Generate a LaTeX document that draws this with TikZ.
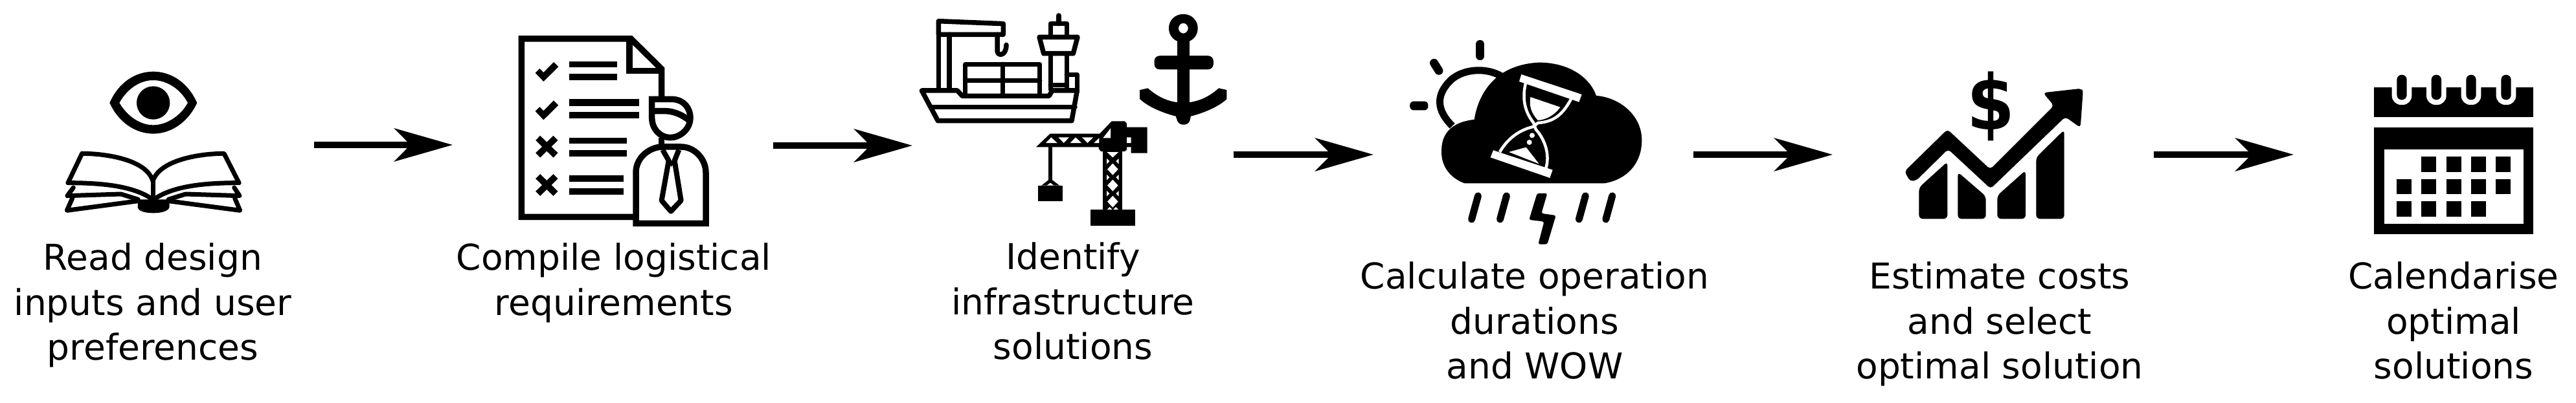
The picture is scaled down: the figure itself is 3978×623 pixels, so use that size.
\documentclass[tikz,border=0pt]{standalone}
\usepackage{fontspec}
\setmainfont{DejaVu Sans}
\usetikzlibrary{arrows.meta}
\tikzset{
  flowarrow/.style={line width=10pt,-{Stealth[length=90pt,width=51pt,inset=25pt]}},
  steplabel/.style={anchor=north,inner sep=0pt,align=center,font=\fontsize{55}{69.5}\selectfont},
  ztwo/.style={shift={(1300,0)},xscale=1/1.206,yscale=1/2.516},
  ink/.style={line width=#1,line join=round,line cap=round},
  ink/.default=9pt,
}
\begin{document}
\begin{tikzpicture}[x=1pt,y=-1pt]
\useasboundingbox (0,0) rectangle (3978,623);
\fill[white] (0,0) rectangle (3978,623);

% --- labels
\node[steplabel] (t1) at (236,369) {\strut Read design\\inputs and user\\preferences};
\node[steplabel] (t2) at (948,369) {\strut Compile logistical\\requirements};
\node[steplabel] (t3) at (1657,368) {\strut Identify\\infrastructure\\solutions};
\node[steplabel] (t4) at (2370,398) {\strut Calculate operation\\durations\\and WOW};
\node[steplabel] (t5) at (3088,398) {\strut Estimate costs\\and select\\optimal solution};
\node[steplabel] (t6) at (3789,398) {\strut Calendarise\\optimal\\solutions};

% --- connector end points
\coordinate (a1s) at (485,224);  \coordinate (a1e) at (699,224);
\coordinate (a2s) at (1194,225); \coordinate (a2e) at (1409,225);
\coordinate (a3s) at (1905,239); \coordinate (a3e) at (2121,239);
\coordinate (a4s) at (2615,239); \coordinate (a4e) at (2830,239);
\coordinate (a5s) at (3326,239); \coordinate (a5e) at (3542,239);
\draw[flowarrow] (a1s) -- (a1e);
\draw[flowarrow] (a2s) -- (a2e);
\draw[flowarrow] (a3s) -- (a3e);
\draw[flowarrow] (a4s) -- (a4e);
\draw[flowarrow] (a5s) -- (a5e);

% --- eye and book
\begin{scope}[shift={(70,90)},scale=1/3]
\fill[even odd rule] (298,207) .. controls (340,110) and (420,62) .. (500,62) .. controls (580,62) and (660,110) .. (703,207) .. controls (660,300) and (580,350) .. (500,350) .. controls (420,350) and (340,300) .. (298,207) -- cycle
 (343,207) .. controls (380,140) and (440,102) .. (500,102) .. controls (560,102) and (625,140) .. (660,207) .. controls (625,270) and (560,310) .. (500,310) .. controls (440,310) and (380,270) .. (343,207) -- cycle;
\fill (500,207) circle[radius=77];
\begin{scope}[ink=7pt]
\draw (105,578) -- (170,442) .. controls (280,442) and (470,470) .. (498,570) .. controls (530,470) and (720,442) .. (828,442) -- (897,578);
\draw (498,560) -- (498,650);
\draw (105,578) .. controls (250,578) and (400,590) .. (490,650);
\draw (897,578) .. controls (750,578) and (600,590) .. (510,650);
\draw (130,600) -- (102,638) -- (350,630) -- (430,655);
\draw (875,600) -- (900,638) -- (650,630) -- (570,655);
\draw (125,650) -- (100,706) -- (430,662);
\draw (878,650) -- (902,706) -- (570,662);
\end{scope}
\fill (430,655) -- (575,655) -- (575,690) .. controls (570,712) and (530,718) .. (500,718) .. controls (470,718) and (430,712) .. (428,690) -- cycle;
\end{scope}

% --- checklist and person
\begin{scope}[shift={(780,40)},scale=1/3]
\begin{scope}[line width=9.5pt]
\draw (600,886) -- (76,886) -- (76,60) -- (583,60) -- (725,200) -- (725,335);
\draw (576,60) -- (576,209) -- (725,209);
\end{scope}
\foreach \a/\b/\c in {165/192/518,223/251/518,340/371/622,399/430/622,519/547/563,577/606/563,694/724/549,752/782/549} {
 \fill (298,\a) rectangle (\c,\b);
}
\foreach \y in {0,178} {
 \fill (140,218+\y) -- (160,198+\y) -- (178,216+\y) -- (225,168+\y) -- (247,190+\y) -- (178,258+\y) -- cycle;
}
\foreach \y in {560,738} {
 \draw[line width=10pt] (152,\y-40) -- (234,\y+40) (234,\y-40) -- (152,\y+40);
}
\begin{scope}[line width=9.5pt]
\draw[fill=white] (680,340) -- (770,340) .. controls (830,340) and (858,385) .. (858,425) .. controls (858,480) and (810,518) .. (765,518) .. controls (720,518) and (680,480) .. (680,425) -- cycle;
\draw (680,395) -- (740,395) .. controls (790,395) and (830,420) .. (855,440);
\draw (725,518) -- (725,560);
\draw[fill=white] (606,916) -- (606,680) .. controls (606,610) and (670,561) .. (730,561) -- (815,561) .. controls (880,561) and (930,620) .. (930,680) -- (930,916) -- cycle;
\draw[line width=8pt,line join=round] (730,575) -- (758,625) -- (725,810) -- (768,860) -- (815,810) -- (785,625) -- (805,575);
\draw[line width=5pt] (758,620) -- (771,640) -- (785,620);
\end{scope}
\end{scope}

% --- ship
\begin{scope}[shift={(1410,10)},scale=1/3]
\begin{scope}[ink=7.5pt]
\draw (118,68) -- (418,80) -- (418,130) -- (118,130) -- cycle;
\draw (118,130) -- (118,385) (168,130) -- (168,385);
\draw (390,130) -- (390,205) .. controls (390,232) and (432,232) .. (432,178);
\draw (242,268) rectangle (587,415);
\draw (415,268) -- (415,415) (242,343) -- (587,343);
\draw (675,42) -- (675,80);
\draw (637,140) -- (637,80) -- (712,80) -- (712,140);
\draw (585,142) -- (762,142) -- (742,218) -- (605,218) -- cycle;
\draw (637,218) -- (637,385) (712,218) -- (712,385);
\draw (712,316) -- (760,316) -- (760,395);
\draw (637,365) -- (712,365);
\draw (40,390) -- (205,390) -- (228,415) -- (630,415) -- (645,390) -- (760,390) -- (735,530) -- (115,530) -- cycle;
\draw (85,466) -- (750,466);
\end{scope}
\end{scope}

% --- anchor
\begin{scope}[ztwo]
\fill[even odd rule] (636,55) .. controls (652,55) and (663,80) .. (663,110) .. controls (663,140) and (652,165) .. (636,165) .. controls (620,165) and (609,140) .. (609,110) .. controls (609,80) and (620,55) .. (636,55) -- cycle
 (636,90) .. controls (641,90) and (645,100) .. (645,110) .. controls (645,120) and (641,130) .. (636,130) .. controls (631,130) and (627,120) .. (627,110) .. controls (627,100) and (631,90) .. (636,90) -- cycle;
\fill (625,150) rectangle (648,440);
\fill[rounded corners=8pt] (582,217) rectangle (692,270);
\fill (570,343) .. controls (590,380) and (610,398) .. (636,400) .. controls (662,398) and (682,380) .. (702,343) -- (717,350) -- (717,385) .. controls (700,420) and (665,445) .. (650,452) -- (648,470) .. controls (645,490) and (628,490) .. (625,470) -- (622,452) .. controls (607,445) and (572,420) .. (555,385) -- (555,350) -- cycle;
\end{scope}

% --- tower crane
\begin{scope}[shift={(1590,180)},scale=1/3]
\fill (30,142) -- (95,80) -- (325,80) -- (380,22) -- (440,22) -- (450,32) -- (450,50) -- (470,50) -- (545,50) -- (545,170) -- (470,170) -- (470,142) -- (450,142) -- (450,155) -- (440,162) -- (330,162) -- (320,150) -- (320,142) -- cycle;
\fill[white] (75,123) -- (128,123) -- (100,97) -- cycle
 (133,97) -- (183,97) -- (158,123) -- cycle
 (188,123) -- (240,123) -- (213,97) -- cycle
 (243,97) -- (295,97) -- (268,123) -- cycle
 (298,123) -- (322,123) -- (322,100) -- cycle
 (340,100) -- (375,100) -- (375,55) -- cycle
 (450,97) rectangle (470,123);
\fill (340,160) rectangle (430,433);
\fill[white] (358,165) -- (412,165) -- (385,190) -- cycle;
\foreach \y in {245,320,395} {
 \fill[white] (385,\y-27) -- (410,\y) -- (385,\y+27) -- (360,\y) -- cycle;
 \fill[white] (357,\y-50) -- (370,\y-37) -- (357,\y-24) -- cycle;
 \fill[white] (413,\y-50) -- (400,\y-37) -- (413,\y-24) -- cycle;
}
\fill[white] (358,433) -- (371,420) -- (384,433) -- cycle (386,433) -- (399,420) -- (412,433) -- cycle;
\fill (282,433) rectangle (488,506);
\fill (88,142) rectangle (104,295);
\fill (40,320) rectangle (153,393);
\fill (55,320) -- (96,288) -- (138,320) -- cycle;
\fill[white] (80,320) -- (96,308) -- (112,320) -- cycle;
\end{scope}

% --- weather
\begin{scope}[ztwo]
\draw[line width=11pt] (1137,490) .. controls (1108,430) and (1105,370) .. (1135,310) .. controls (1160,265) and (1205,260) .. (1235,305);
\fill (1160,713) .. controls (1130,690) and (1115,640) .. (1117,580) .. controls (1118,520) and (1135,475) .. (1178,465) .. controls (1185,370) and (1215,250) .. (1300,243) .. controls (1360,245) and (1395,310) .. (1405,372) .. controls (1450,380) and (1490,450) .. (1490,545) .. controls (1490,640) and (1460,700) .. (1420,713) -- cycle;
\draw[line width=13pt,line cap=round] (1189,172) -- (1189,218);
\draw[line width=13pt,line cap=round] (1103,245) -- (1112,275);
\fill[rounded corners=6pt] (1058,394) rectangle (1092,429);
\draw[ink=11pt] (1185,762) -- (1173,853);
\draw[ink=11pt] (1238,762) -- (1226,853);
\draw[ink=11pt] (1385,762) -- (1373,853);
\draw[ink=11pt] (1435,762) -- (1423,853);
\fill[rounded corners=3pt] (1295,752) -- (1314,752) -- (1303,830) -- (1330,838) -- (1314,950) -- (1297,950) -- (1308,862) -- (1280,855) -- cycle;
\end{scope}

% --- hourglass
\begin{scope}[shift={(2280,60)},scale=1/3]
\fill[white] (208,165) -- (488,258) -- (475,293) -- (198,198) -- cycle;
\fill[white] (78,517) -- (353,608) -- (340,645) -- (65,550) -- cycle;
\draw[white,line width=4.5pt] (228,205) .. controls (210,280) and (225,340) .. (265,390) -- (275,420) .. controls (320,470) and (340,540) .. (322,600);
\draw[white,line width=4.5pt] (438,280) .. controls (400,350) and (360,385) .. (285,390) -- (262,408) .. controls (190,425) and (140,470) .. (108,525);
\fill[white] (250,270) -- (388,317) .. controls (370,345) and (330,375) .. (285,378) .. controls (250,340) and (245,310) .. (250,270) -- cycle;
\fill[white] (150,525) -- (230,503) -- (290,580) -- cycle;
\fill[white] (258,448) circle[radius=12];
\fill[white] (245,480) circle[radius=12];
\end{scope}

% --- cost chart
\node[inner sep=0pt,xscale=.9,font=\fontsize{118}{118}\bfseries\selectfont] (dollar) at (3074,164) {\$};
\begin{scope}[shift={(2900,90)},scale=1/3]
\fill[rounded corners=5pt] (123,525) -- (322,330) -- (520,515) -- (815,220) -- (765,160) -- (945,140) -- (950,155) -- (938,322) -- (868,272) -- (522,605) -- (325,422) -- (180,565) -- (150,572) -- cycle;
\fill[rounded corners=6pt] (190,745) -- (190,600) -- (322,480) -- (322,745) -- cycle;
\fill[rounded corners=6pt] (370,745) -- (370,528) -- (500,640) -- (500,745) -- cycle;
\fill[rounded corners=6pt] (553,745) -- (553,637) -- (684,520) -- (684,745) -- cycle;
\fill[rounded corners=6pt] (733,745) -- (733,460) -- (863,332) -- (863,745) -- cycle;
\end{scope}

% --- calendar
\begin{scope}[shift={(3600,90)},scale=1/3]
\fill (199,135) rectangle (936,273);
\fill (199,320) rectangle (936,815);
\fill[white] (246,424) rectangle (891,769);
\foreach \x in {327,487,648,810} {
 \fill[white] (\x-46,130) [rounded corners=14pt] -- (\x-46,216) -- (\x+46,216) [sharp corners] -- (\x+46,130) -- cycle;
 \fill[rounded corners=7.5pt] (\x-23,77) rectangle (\x+23,193);
}
\foreach \x in {417,533,648,762} {
 \fill (\x,457) rectangle (\x+70,527);
 \fill (\x,561) rectangle (\x+70,631);
}
\fill (303,561) rectangle (373,631);
\foreach \x in {303,417,533,648} {
 \fill (\x,664) rectangle (\x+70,734);
}
\end{scope}
\end{tikzpicture}
\end{document}
